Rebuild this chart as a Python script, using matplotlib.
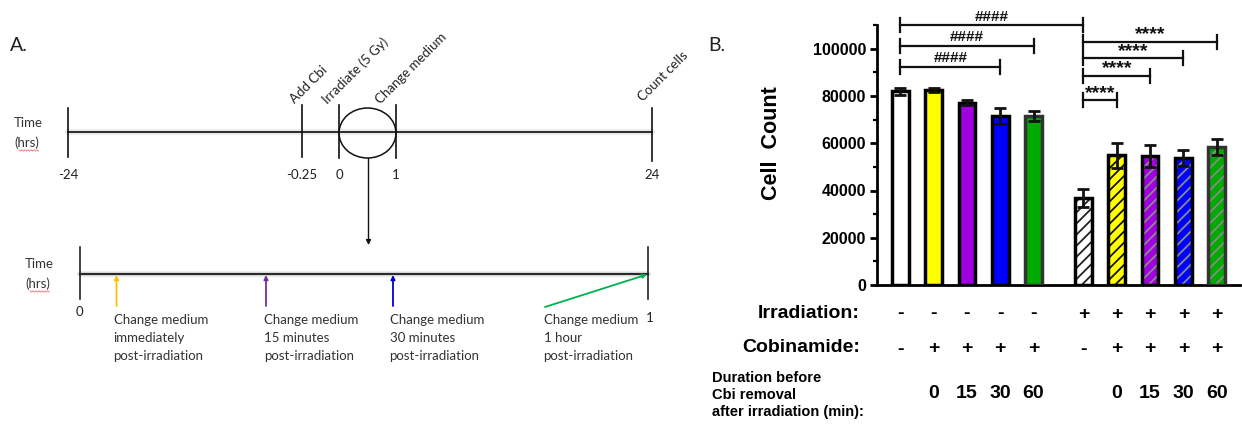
import matplotlib
matplotlib.use("Agg")
import matplotlib.pyplot as plt
from matplotlib import transforms
from matplotlib.patches import Ellipse

# ---------------- data ----------------
irradiation = ['-', '-', '-', '-', '-', '+', '+', '+', '+', '+']
cobinamide = ['-', '+', '+', '+', '+', '-', '+', '+', '+', '+']
duration_min = ['', '0', '15', '30', '60', '', '0', '15', '30', '60']
cell_count = [82000, 82500, 77200, 71500, 71500, 36800, 55000, 54600, 53800, 58400]
cell_sem = [1500, 800, 900, 3500, 2200, 3800, 5300, 4600, 3300, 3500]
bar_colors = ['#FFFFFF', '#FFFF00', '#A100E0', '#0000FF', '#00AA00'] * 2
yticks = [0, 20000, 40000, 60000, 80000, 100000]

# significance comparisons: (bar i, bar j, bracket height, label)
hash_tests = [(0, 5, 110000, '####'), (0, 4, 101300, '####'), (0, 3, 92400, '####')]
star_tests = [(5, 9, 103000, '****'), (5, 8, 96000, '****'),
              (5, 7, 88500, '****'), (5, 6, 78300, '****')]

# timeline schematic
main_tick_labels = ['-24', '-0.25', '0', '1', '24']
main_events = ['Add Cbi', 'Irradiate (5 Gy)', 'Change medium', 'Count cells']
sub_tick_labels = ['0', '1']
sub_events = [['Change medium', 'immediately', 'post-irradiation'],
              ['Change medium', '15 minutes', 'post-irradiation'],
              ['Change medium', '30 minutes', 'post-irradiation'],
              ['Change medium', '1 hour', 'post-irradiation']]
sub_colors = ['#FFC000', '#7030A0', '#0000CC', '#00B050']

# ---------------- figure ----------------
fig = plt.figure(figsize=(12.42, 4.25), dpi=100)
W, H = 1242, 425

# canvas axes in pixel units for the schematic (panel A) and the table text
cv = fig.add_axes([0, 0, 1, 1])
cv.set_xlim(0, W)
cv.set_ylim(H, 0)
cv.axis('off')

word_font = ['Lato', 'DejaVu Sans']
word_col = '#333333'

cv.text(10, 45, 'A.', fontsize=14, family=word_font, color='#202020', va='center', ha='left')
cv.text(708, 45, 'B.', fontsize=14, family=word_font, color='#202020', va='center', ha='left')

# --- main timeline ---
main_y = 131.5
main_x = [68, 302, 339, 396, 652]
cv.plot([main_x[0], main_x[-1]], [main_y, main_y], color='#d8d8d8', lw=4.5, alpha=0.5,
        solid_capstyle='round', zorder=1)
cv.plot([main_x[0], main_x[-1]], [main_y, main_y], color='#2a2a2a', lw=1.4, zorder=2)
tick_spans = [(108, 157), (105, 157), (105, 158), (105, 158), (108, 161)]
for x, (t0, t1), lab in zip(main_x, tick_spans, main_tick_labels):
    cv.plot([x, x], [t0, t1], color='#111111', lw=1.2, zorder=3)
    cv.text(x, 175, lab, fontsize=9.5, family=word_font, color='#202020',
            ha='center', va='center')

event_anchor = [(295, 104), (328, 105), (381, 105), (643, 102)]
for (x, y), lab in zip(event_anchor, main_events):
    cv.text(x, y, lab, fontsize=9.5, family=word_font, color='#202020', rotation=45,
            rotation_mode='anchor', ha='left', va='baseline')

cv.text(14, 123, 'Time', fontsize=9.5, family=word_font, color=word_col, va='center')
cv.text(14, 142.5, '(hrs)', fontsize=9.5, family=word_font, color=word_col, va='center')

# zoom circle around the 0-1 h window and arrow to the detailed timeline
circ_cx = (main_x[2] + main_x[3]) / 2
cv.add_patch(Ellipse((circ_cx, main_y + 1.5), main_x[3] - main_x[2], 50, fill=False,
                     edgecolor='#111111', lw=1.1, zorder=3))
cv.annotate('', xy=(circ_cx + 1, 245), xytext=(circ_cx + 1, 158.5),
            arrowprops=dict(arrowstyle='-|>', color='#111111', lw=1.0,
                            mutation_scale=7, shrinkA=0, shrinkB=0))

# --- detailed 0-1 h timeline ---
sub_y = 274
sub_x = [80, 648]
cv.plot(sub_x, [sub_y, sub_y], color='#d8d8d8', lw=4.5, alpha=0.5,
        solid_capstyle='round', zorder=1)
cv.plot(sub_x, [sub_y, sub_y], color='#2a2a2a', lw=1.6, zorder=2)
for x in sub_x:
    cv.plot([x, x], [246.5, 298.5], color='#222222', lw=1.2, zorder=3)
cv.text(79, 311.5, sub_tick_labels[0], fontsize=9.5, family=word_font, color='#202020',
        ha='center', va='center')
cv.text(650, 318.5, sub_tick_labels[1], fontsize=9.5, family=word_font, color='#202020',
        ha='center', va='center')
cv.text(25, 264.5, 'Time', fontsize=9.5, family=word_font, color=word_col, va='center')
cv.text(25, 283.5, '(hrs)', fontsize=9.5, family=word_font, color=word_col, va='center')

arrow_tails = [(116.5, 306), (266, 306), (393, 306), (545, 307)]
arrow_heads = [(116.5, 275), (266, 275), (393, 275), (647, 274.5)]
text_x = [113.5, 264, 389.5, 543.5]
for (tx, ty), (hx, hy), c, lines, lx in zip(arrow_tails, arrow_heads, sub_colors,
                                            sub_events, text_x):
    cv.annotate('', xy=(hx, hy), xytext=(tx, ty),
                arrowprops=dict(arrowstyle='-|>', color=c, lw=1.3,
                                mutation_scale=6, shrinkA=0, shrinkB=0), zorder=4)
    for k, line in enumerate(lines):
        cv.text(lx, 320 + 18 * k, line, fontsize=9.5, family=word_font, color=word_col,
                ha='left', va='center')

# spell-check squiggles under "hrs"
for yy in (150.5, 291.5):
    x0 = 19 if yy < 200 else 30
    xs = [x0 + i * 1.5 for i in range(14)]
    ys = [yy + (0.7 if i % 2 else -0.7) for i in range(14)]
    cv.plot(xs, ys, color='#e05050', lw=0.6, alpha=0.8)

# ---------------- panel B: bar chart ----------------
plt.rcParams['hatch.linewidth'] = 1.3
arial = ['Liberation Sans', 'DejaVu Sans']
x_pos = [0, 1, 2, 3, 4, 5.5, 6.5, 7.5, 8.5, 9.5]
px_per_unit = 33.3
x_left = (877 - 900.3) / px_per_unit
x_right = (1240 - 900.3) / px_per_unit

ax = fig.add_axes([877 / W, 140 / H, (1240 - 877) / W, 283.5 / H])
ax.patch.set_visible(False)
ax.set_xlim(x_left, x_right)
ax.set_ylim(0, 120000)

edge_cols = ['#000000', '#000000', '#000000', '#000000', '#333333'] * 2
hatch_cols = ['#222222', '#111111', '#8a8a8a', '#8a8a8a', '#8a8a8a']
for i, (x, v, c, ec) in enumerate(zip(x_pos, cell_count, bar_colors, edge_cols)):
    if irradiation[i] == '+':
        ax.bar(x, v, width=0.5, color=c, edgecolor=hatch_cols[i - 5], lw=0,
               hatch='///', zorder=2)
        ax.bar(x, v, width=0.5, color='none', edgecolor=ec, lw=2.5, zorder=3)
    else:
        ax.bar(x, v, width=0.5, color=c, edgecolor=ec, lw=2.5, zorder=3)

ax.errorbar(x_pos, cell_count, yerr=cell_sem, fmt='none', ecolor='#111111',
            elinewidth=2, capsize=4, capthick=2, zorder=4)

tick_h = 3000
for tests, fs, dy in ((hash_tests, 11, 1800), (star_tests, 14, 1000)):
    for i, j, yb, lab in tests:
        x1, x2 = x_pos[i], x_pos[j]
        ax.plot([x1, x2], [yb, yb], color='#111111', lw=1.6, clip_on=False, zorder=5)
        for xx in (x1, x2):
            ax.plot([xx, xx], [yb - tick_h, yb + tick_h], color='#111111', lw=1.6,
                    clip_on=False, zorder=5)
        ax.text((x1 + x2) / 2, yb + dy, lab, ha='center', va='baseline', fontsize=fs,
                fontweight='bold', family=arial, color='#111111', clip_on=False)

for s in ('top', 'right'):
    ax.spines[s].set_visible(False)
ax.spines['left'].set_linewidth(2)
ax.spines['bottom'].set_linewidth(2)
ax.spines['left'].set_bounds(0, 110000)
ax.set_xticks([])
ax.set_yticks(yticks)
ax.set_yticks([10000, 30000, 50000, 70000, 90000, 110000], minor=True)
ax.set_yticklabels([str(t) for t in yticks])
ax.tick_params(axis='y', which='major', length=5, width=2, pad=3, labelsize=11.5)
ax.tick_params(axis='y', which='minor', length=3, width=1.6)
for lab in ax.get_yticklabels():
    lab.set_fontweight('bold')
    lab.set_family(arial)
ax.set_ylabel('Cell  Count', fontsize=15.5, fontweight='bold', family=arial, labelpad=22)

# condition table under the bars
tr = transforms.blended_transform_factory(ax.transData, cv.transData)
cv.text(860, 313, 'Irradiation:', ha='right', va='center', fontsize=14,
        fontweight='bold', family=arial)
cv.text(860, 348, 'Cobinamide:', ha='right', va='center', fontsize=14,
        fontweight='bold', family=arial)
for k, line in enumerate(['Duration before', 'Cbi removal', 'after irradiation (min):']):
    cv.text(712, 378 + 17 * k, line, ha='left', va='center', fontsize=10.5,
            fontweight='bold', family=arial)
for x, irr, cob, dur in zip(x_pos, irradiation, cobinamide, duration_min):
    ax.text(x, 314, irr, transform=tr, ha='center', va='center', fontsize=14,
            fontweight='bold', family=arial)
    ax.text(x, 349, cob, transform=tr, ha='center', va='center', fontsize=14,
            fontweight='bold', family=arial)
    ax.text(x, 393, dur, transform=tr, ha='center', va='center', fontsize=14,
            fontweight='bold', family=arial)

fig.savefig('out.png', dpi=100)
